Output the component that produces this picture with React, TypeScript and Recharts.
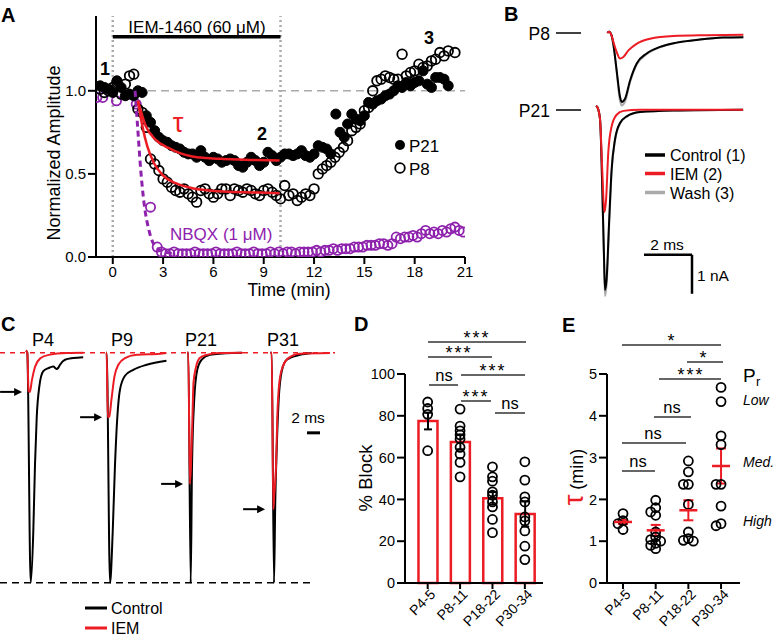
import React from "react";
import {
  Bar, ComposedChart, ErrorBar, Line, LineChart, ReferenceDot, ReferenceLine, Scatter, XAxis, YAxis,
} from "recharts";

// ---------- colours / fonts ----------
const RED = "#ec1c24";
const PURPLE = "#8e22ad";
const GRAY = "#aaaaaa";
const FONT = '"Liberation Sans", Arial, Helvetica, sans-serif';

// ---------- Panel A: normalized amplitude vs time (min) ----------
const p21: [number, number][] = [
  [-0.75, 1.03], [-0.5, 1.02], [-0.25, 1.01], [0, 0.99], [0.25, 1.06], [0.5, 1.02], [0.75, 0.97],
  [1.0, 0.98], [1.25, 0.97], [1.5, 1.0], [1.75, 0.99], [2.0, 0.85], [2.25, 0.81], [2.5, 0.76],
  [2.75, 0.72], [3.0, 0.7], [3.25, 0.69], [3.5, 0.67], [3.75, 0.66], [4.0, 0.65], [4.25, 0.63],
  [4.5, 0.62], [4.75, 0.62], [5.0, 0.6], [5.25, 0.64], [5.5, 0.6], [5.75, 0.58], [6.0, 0.6],
  [6.25, 0.59], [6.5, 0.57], [6.75, 0.58], [7.0, 0.59], [7.25, 0.58], [7.5, 0.55], [7.75, 0.54],
  [8.0, 0.57], [8.25, 0.6], [8.5, 0.58], [8.75, 0.55], [9.0, 0.57], [9.25, 0.63], [9.5, 0.61],
  [9.75, 0.58], [10.0, 0.6], [10.25, 0.62], [10.5, 0.62], [10.75, 0.61], [11.0, 0.62], [11.25, 0.64],
  [11.5, 0.61], [11.75, 0.6], [12.0, 0.62], [12.25, 0.67], [12.5, 0.66], [12.75, 0.65], [13.0, 0.62],
  [13.3, 0.86], [13.55, 0.75], [13.8, 0.72], [14.0, 0.8], [14.25, 0.86], [14.5, 0.83], [14.75, 0.82],
  [15.0, 0.85], [15.25, 0.93], [15.5, 0.92], [15.75, 0.94], [16.0, 0.95], [16.25, 0.97], [16.5, 0.98],
  [16.75, 1.0], [17.0, 1.03], [17.25, 1.02], [17.5, 1.05], [17.75, 1.03], [18.0, 1.05], [18.25, 1.06],
  [18.5, 1.12], [18.75, 1.04], [19.0, 1.02], [19.25, 1.08], [19.5, 1.08], [19.75, 1.07], [20.0, 1.03],
];

const p8: [number, number][] = [
  [-0.75, 1.01], [-0.5, 0.99], [-0.25, 1.0], [0, 1.02], [0.25, 1.05], [0.5, 0.98], [0.75, 1.04],
  [1.0, 1.09], [1.25, 1.1], [1.5, 0.89], [1.75, 0.87], [2.0, 0.78], [2.25, 0.59], [2.5, 0.56],
  [2.75, 0.52], [3.0, 0.47], [3.25, 0.45], [3.5, 0.42], [3.75, 0.4], [4.0, 0.39], [4.25, 0.41],
  [4.5, 0.38], [4.75, 0.36], [5.0, 0.33], [5.25, 0.4], [5.5, 0.41], [5.75, 0.38], [6.0, 0.36],
  [6.25, 0.38], [6.5, 0.41], [6.75, 0.41], [7.0, 0.37], [7.25, 0.41], [7.5, 0.4], [7.75, 0.39],
  [8.0, 0.41], [8.25, 0.4], [8.5, 0.38], [8.75, 0.37], [9.0, 0.4], [9.25, 0.41], [9.5, 0.39],
  [9.75, 0.37], [10.0, 0.35], [10.25, 0.43], [10.5, 0.37], [10.75, 0.38], [11.0, 0.34], [11.25, 0.36],
  [11.5, 0.38], [11.75, 0.37], [12.0, 0.41], [12.25, 0.5], [12.5, 0.53], [12.75, 0.55], [13.0, 0.57],
  [13.25, 0.6], [13.5, 0.63], [13.75, 0.66], [14.0, 0.7], [14.25, 0.76], [14.5, 0.78], [14.75, 0.8],
  [15.0, 0.88], [15.25, 0.9], [15.5, 1.0], [15.75, 1.06], [16.0, 1.07], [16.25, 1.09], [16.5, 1.08],
  [16.75, 1.07], [17.0, 1.07], [17.25, 1.22], [17.5, 1.09], [17.75, 1.11], [18.0, 1.12], [18.25, 1.16],
  [18.5, 1.14], [18.75, 1.15], [19.0, 1.18], [19.25, 1.19], [19.5, 1.23], [19.75, 1.21], [20.0, 1.24],
  [20.4, 1.23],
];

const nbqx: [number, number][] = [
  [-0.95, 0.96], [-0.6, 0.96], [0.22, 0.94], [1.4, 0.92], [2.25, 0.3], [2.65, 0.06],
  [2.9, 0.03], [3.15, 0.02], [3.4, 0.02], [3.65, 0.03], [3.9, 0.02], [4.15, 0.02], [4.4, 0.02],
  [4.65, 0.02], [4.9, 0.03], [5.15, 0.02], [5.4, 0.02], [5.65, 0.02], [5.9, 0.02], [6.15, 0.03],
  [6.4, 0.02], [6.65, 0.02], [6.9, 0.02], [7.15, 0.02], [7.4, 0.03], [7.65, 0.02], [7.9, 0.02],
  [8.15, 0.02], [8.4, 0.03], [8.65, 0.02], [8.9, 0.02], [9.15, 0.02], [9.4, 0.03], [9.65, 0.02],
  [9.9, 0.03], [10.15, 0.02], [10.4, 0.03], [10.65, 0.03], [10.9, 0.02], [11.15, 0.03], [11.4, 0.03],
  [11.65, 0.03], [11.9, 0.03], [12.15, 0.04], [12.4, 0.03], [12.65, 0.04], [12.9, 0.04], [13.15, 0.05],
  [13.4, 0.04], [13.65, 0.05], [13.9, 0.05], [14.15, 0.05], [14.4, 0.06], [14.65, 0.06], [14.9, 0.06],
  [15.15, 0.07], [15.4, 0.07], [15.65, 0.07], [15.9, 0.08], [16.15, 0.08], [16.4, 0.07], [16.65, 0.08],
  [16.9, 0.12], [17.15, 0.11], [17.4, 0.12], [17.65, 0.12], [17.9, 0.13], [18.15, 0.12], [18.4, 0.14],
  [18.65, 0.16], [18.9, 0.14], [19.15, 0.15], [19.4, 0.14], [19.65, 0.16], [19.9, 0.15], [20.15, 0.17],
  [20.4, 0.18], [20.65, 0.16], [20.9, 0.15],
];

const fitP21: [number, number][] = [
  [1.5, 0.94], [1.96, 0.79], [2.56, 0.705], [3.35, 0.655], [4.0, 0.625], [4.74, 0.605],
  [5.6, 0.596], [6.57, 0.59], [7.5, 0.586], [8.55, 0.583], [9.94, 0.58],
];
const fitP8: [number, number][] = [
  [1.5, 0.94], [1.77, 0.785], [2.06, 0.665], [2.46, 0.564], [2.96, 0.494], [3.75, 0.444],
  [4.74, 0.414], [5.6, 0.402], [6.57, 0.394], [8.55, 0.388], [9.94, 0.384],
];
const fitNbqx: [number, number][] = [
  [1.33, 1.0], [1.47, 0.8], [1.67, 0.52], [1.87, 0.32], [2.16, 0.16], [2.56, 0.06], [3.15, 0.03], [3.6, 0.02],
];

const timeTicks = [0, 3, 6, 9, 12, 15, 18, 21];
const ampTicks = [0, 0.5, 1.0];

// ---------- Panel B: example currents (ms, nA) ----------
const bP8Control: [number, number][] = [
  [0.72, 0.02], [0.8, 0.05], [0.9, -0.05], [0.97, -0.26], [1.11, -0.94], [1.25, -1.62], [1.32, -1.75],
  [1.46, -1.67], [1.67, -1.2], [1.94, -0.77], [2.36, -0.51], [2.92, -0.34], [3.61, -0.23], [4.58, -0.15],
  [5.55, -0.1], [6.39, -0.09],
];
const bP8Wash: [number, number][] = [
  [0.72, 0.02], [0.8, 0.05], [0.9, -0.05], [0.97, -0.27], [1.11, -0.98], [1.25, -1.72], [1.32, -1.84],
  [1.46, -1.74], [1.67, -1.24], [1.94, -0.8], [2.36, -0.53], [2.92, -0.35], [3.61, -0.23], [4.58, -0.15],
  [5.55, -0.1], [6.39, -0.09],
];
const bP8Iem: [number, number][] = [
  [0.72, 0.02], [0.8, 0.05], [0.9, -0.05], [0.97, -0.2], [1.11, -0.47], [1.25, -0.64], [1.39, -0.6],
  [1.6, -0.43], [1.94, -0.26], [2.5, -0.13], [3.47, -0.06], [4.86, -0.04], [6.39, -0.03],
];
const bP21Control: [number, number][] = [
  [0.25, 0.1], [0.32, 0.05], [0.42, -0.26], [0.51, -1.97], [0.58, -3.68], [0.625, -4.62], [0.69, -4.36],
  [0.8, -2.82], [0.9, -1.54], [1.04, -0.77], [1.25, -0.34], [1.53, -0.17], [2.08, -0.06], [3.47, -0.02],
  [6.38, 0],
];
const bP21Wash: [number, number][] = [
  [0.25, 0.1], [0.32, 0.05], [0.42, -0.27], [0.51, -2.05], [0.58, -3.8], [0.625, -4.78], [0.69, -4.5],
  [0.8, -2.95], [0.9, -1.62], [1.04, -0.8], [1.25, -0.36], [1.53, -0.18], [2.08, -0.06], [3.47, -0.02],
  [6.38, 0],
];
const bP21Iem: [number, number][] = [
  [0.25, 0.1], [0.32, 0.05], [0.42, -0.26], [0.51, -1.54], [0.6, -2.63], [0.67, -2.31], [0.76, -1.11],
  [0.9, -0.43], [1.11, -0.13], [1.39, -0.03], [2.08, 0], [6.38, 0],
];

// ---------- Panel C: normalized currents (ms, fraction of control peak) ----------
const cAges = ["P4", "P9", "P21", "P31"];
const cLeft = [0, 80, 161, 243];
const cControl: [number, number][][] = [
  [[4.0, 0.01], [4.2, 0], [4.72, -1.0], [5.12, -0.78], [5.38, -0.49], [5.65, -0.28], [6.05, -0.146],
    [6.66, -0.08], [7.43, -0.067], [8.2, -0.06], [8.7, -0.07], [8.97, -0.065], [9.23, -0.052],
    [10.0, -0.03], [11.28, -0.023], [12.8, -0.019]],
  [[4.0, 0], [4.1, 0], [4.62, -1.0], [5.03, -0.78], [5.38, -0.49], [5.74, -0.28], [6.15, -0.16],
    [6.92, -0.1], [8.2, -0.074], [10.26, -0.052], [13.3, -0.035]],
  [[4.0, 0], [4.2, 0], [4.57, -1.0], [4.77, -0.494], [5.12, -0.2], [5.58, -0.074], [6.26, -0.03],
    [7.54, -0.009], [11.08, -0.001], [12.46, 0]],
  [[4.2, 0], [4.42, 0], [4.77, -1.0], [4.97, -0.639], [5.18, -0.422], [5.49, -0.204], [5.95, -0.081],
    [6.72, -0.03], [8.77, -0.009], [10.57, -0.001]],
];
const cIem: [number, number][][] = [
  [[4.0, 0.01], [4.2, 0], [4.4, -0.165], [4.6, -0.17], [4.9, -0.12], [5.4, -0.06], [6.2, -0.024],
    [7.5, -0.009], [10.3, -0.001], [12.8, 0]],
  [[4.0, 0], [4.1, 0], [4.27, -0.28], [4.5, -0.278], [4.85, -0.2], [5.3, -0.103], [5.9, -0.052],
    [6.92, -0.023], [8.72, -0.009], [12.3, -0.004], [13.3, -0.001]],
  [[4.0, 0], [4.2, 0], [4.44, -0.57], [4.6, -0.5], [4.82, -0.3], [5.0, -0.13], [5.4, -0.06],
    [5.95, -0.023], [7.0, -0.009], [9.08, -0.001], [12.46, 0]],
  [[4.2, 0], [4.42, 0], [4.66, -0.68], [4.8, -0.62], [5.08, -0.494], [5.28, -0.277], [5.58, -0.132],
    [6.11, -0.06], [6.97, -0.023], [8.77, -0.004], [13.38, -0.001]],
];

// ---------- Panels D & E ----------
const groups = ["P4-5", "P8-11", "P18-22", "P30-34"];
const blockMean = [77.5, 67.5, 40.5, 33];
const blockSem = [4, 3.5, 3, 6];
const blockPoints = [
  [86.6, 83.5, 80.7, 63.3],
  [83.2, 75.1, 72.8, 70.9, 69.0, 64.9, 61.7, 57.7, 50.8],
  [55.6, 50.8, 48.7, 43.6, 42.0, 38.8, 36.4, 30.4, 24.1],
  [58.0, 49.2, 41.2, 38.8, 31.6, 29.7, 24.9, 17.6, 11.2],
];
const tauMean = [1.46, 1.26, 1.74, 2.8];
const tauSem = [0.05, 0.13, 0.24, 0.42];
const tauPoints = [
  [1.66, 1.49, 1.42, 1.28],
  [1.98, 1.8, 1.7, 1.62, 1.22, 1.1, 1.04, 1.0, 0.95, 0.9, 0.82],
  [2.92, 2.66, 2.36, 2.36, 1.88, 1.22, 1.06, 1.02, 1.0],
  [4.68, 4.34, 3.52, 3.31, 2.36, 2.36, 1.84, 1.42, 1.37],
];

const toTV = (a: [number, number][]) => a.map(([t, v]) => ({ t, v }));

// simple beeswarm so overlapping circles sit side by side (px)
const E_PX_PER_MIN = 41.7;
const E_PX_PER_GROUP = 32.8;
function swarm(values: number[]): number[] {
  const placed: { dx: number; y: number }[] = [];
  return values.map((v) => {
    const y = v * E_PX_PER_MIN;
    for (const k of [0, -1, 1, -2, 2]) {
      const dx = k * 5;
      if (placed.every((p) => Math.hypot(p.dx - dx, p.y - y) >= 5)) {
        placed.push({ dx, y });
        return dx;
      }
    }
    placed.push({ dx: 0, y });
    return 0;
  });
}

const axisStroke = { stroke: "#000", strokeWidth: 2 };

const openDot = (color: string, r = 4.8) => (p: any) =>
  <circle cx={p.cx} cy={p.cy} r={r} fill="none" stroke={color} strokeWidth={1.8} />;
const filledDot = (p: any) => <circle cx={p.cx} cy={p.cy} r={5} fill="#000" stroke="#000" strokeWidth={1} />;

const SlantTick = (props: any) => {
  const { x, y, payload } = props;
  return (
    <text x={x} y={y} dx={3} dy={9} transform={`rotate(-45 ${x} ${y})`} textAnchor="end"
      fontSize={14} fill="#000">{groups[payload.value]}</text>
  );
};

function PanelA() {
  return (
    <ComposedChart width={480} height={300} margin={{ top: 16, right: 15, left: 0, bottom: 13 }}>
      <XAxis type="number" dataKey="t" domain={[-1, 21]} ticks={timeTicks} interval={0} allowDataOverflow
        height={30} tickSize={7} axisLine={axisStroke} tickLine={axisStroke} tick={{ fill: "#000", fontSize: 15 }} />
      <YAxis type="number" domain={[0, 1.45]} ticks={ampTicks} interval={0} allowDataOverflow width={96}
        tickSize={8} tickFormatter={(v: number) => v.toFixed(1)} axisLine={axisStroke} tickLine={axisStroke}
        tick={{ fill: "#000", fontSize: 15 }} />
      <ReferenceLine x={0} stroke={GRAY} strokeWidth={2.5} strokeDasharray="2 3" />
      <ReferenceLine x={10} stroke={GRAY} strokeWidth={2.5} strokeDasharray="2 3" />
      <ReferenceLine y={1} stroke={GRAY} strokeWidth={1.5} strokeDasharray="8 5" />
      <ReferenceLine segment={[{ x: 0, y: 1.325 }, { x: 10, y: 1.325 }]} stroke="#000" strokeWidth={3.5} />
      <Scatter data={toTV(nbqx)} dataKey="v" shape={openDot(PURPLE, 4.6)} isAnimationActive={false} />
      <Scatter data={toTV(p8)} dataKey="v" shape={openDot("#000")} isAnimationActive={false} />
      <Scatter data={toTV(p21)} dataKey="v" shape={filledDot} isAnimationActive={false} />
      <Line data={toTV(fitNbqx)} dataKey="v" type="monotone" stroke={PURPLE} strokeWidth={3}
        strokeDasharray="6 4" dot={false} isAnimationActive={false} zIndex={700} />
      <Line data={toTV(fitP21)} dataKey="v" type="monotone" stroke={RED} strokeWidth={2.5}
        dot={false} isAnimationActive={false} zIndex={700} />
      <Line data={toTV(fitP8)} dataKey="v" type="monotone" stroke={RED} strokeWidth={2.5}
        dot={false} isAnimationActive={false} zIndex={700} />
    </ComposedChart>
  );
}

const B_PX_MS = 24;
const B_PX_NA = 39;

function TraceChart(props: {
  width: number; xPx: number; yDomain: [number, number]; yPx: number;
  series: { data: [number, number][]; color: string }[]; children?: React.ReactNode;
}) {
  const { width, xPx, yDomain, yPx, series, children } = props;
  const height = (yDomain[1] - yDomain[0]) * yPx;
  return (
    <LineChart width={width} height={height} margin={{ top: 0, right: 0, left: 0, bottom: 0 }}>
      <XAxis type="number" dataKey="t" domain={[0, width / xPx]} hide allowDataOverflow />
      <YAxis type="number" domain={yDomain} hide allowDataOverflow />
      {children}
      {series.map((s, i) => (
        <Line key={i} data={toTV(s.data)} dataKey="v" type="monotone" stroke={s.color} strokeWidth={2}
          dot={false} isAnimationActive={false} />
      ))}
    </LineChart>
  );
}

const C_PX_MS = 6.5;
const C_PX_UNIT = 230;
const C_DOMAIN: [number, number] = [-1.03, 0.06];

const Arrow = (p: any) => (
  <g>
    <line x1={p.cx - 22} y1={p.cy} x2={p.cx - 6} y2={p.cy} stroke="#000" strokeWidth={2} />
    <polygon points={`${p.cx},${p.cy} ${p.cx - 8},${p.cy - 4} ${p.cx - 8},${p.cy + 4}`} fill="#000" />
  </g>
);

function PanelC() {
  return (
    <>
      {cAges.map((age, i) => {
        const next = i < 3 ? cLeft[i + 1] : 335;
        const dashEnd = Math.min(next, 312) - cLeft[i];
        const peak = Math.min(...cIem[i].map((d) => d[1]));
        return (
          <div key={age} style={{ position: "absolute", left: cLeft[i], top: 339 }}>
            <TraceChart width={92} xPx={C_PX_MS} yDomain={C_DOMAIN} yPx={C_PX_UNIT}
              series={[{ data: cControl[i], color: "#000" }, { data: cIem[i], color: RED }]}>
              <ReferenceLine segment={[{ x: 0, y: 0 }, { x: (next - cLeft[i]) / C_PX_MS, y: 0 }]}
                stroke={RED} strokeWidth={1.5} strokeDasharray="5 5" />
              <ReferenceLine segment={[{ x: 0, y: -1 }, { x: dashEnd / C_PX_MS, y: -1 }]}
                stroke="#000" strokeWidth={1.5} strokeDasharray="7 5" />
              <ReferenceDot x={3.4} y={peak} r={0} shape={Arrow} ifOverflow="visible" />
              {i === 3 && (
                <ReferenceLine segment={[{ x: 9.85, y: -0.348 }, { x: 11.85, y: -0.348 }]} stroke="#000" strokeWidth={3} />
              )}
            </TraceChart>
          </div>
        );
      })}
    </>
  );
}

function PanelD() {
  const bars = blockMean.map((v, i) => ({ x: i, v, sem: blockSem[i] }));
  const pts = blockPoints.flatMap((vals, i) => vals.map((v) => ({ x: i, v })));
  return (
    <ComposedChart width={220} height={272} data={bars} margin={{ top: 10, right: 7, left: 0, bottom: 3 }}>
      <XAxis type="number" dataKey="x" domain={[-0.7, 3.56]} ticks={[0, 1, 2, 3]} interval={0} allowDataOverflow
        height={50} tickSize={6} axisLine={axisStroke} tickLine={axisStroke} tick={<SlantTick />} />
      <YAxis type="number" domain={[0, 100]} ticks={[0, 20, 40, 60, 80, 100]} interval={0} width={75}
        tickSize={8} axisLine={axisStroke} tickLine={axisStroke} tick={{ fill: "#000", fontSize: 14.5 }} />
      <Bar dataKey="v" barSize={19} fill="#fff" stroke={RED} strokeWidth={2.5} isAnimationActive={false}>
        <ErrorBar dataKey="sem" width={4} stroke="#000" strokeWidth={2} direction="y" isAnimationActive={false} />
      </Bar>
      <Scatter data={pts} dataKey="v" shape={openDot("#000", 4.5)} isAnimationActive={false} />
    </ComposedChart>
  );
}

function PanelE() {
  const pts = tauPoints.flatMap((vals, i) => {
    const dx = swarm(vals);
    return vals.map((v, j) => ({ x: i + dx[j] / E_PX_PER_GROUP, v }));
  });
  const means = tauMean.map((v, i) => ({ x: i, v, sem: tauSem[i] }));
  const meanMark = (p: any) => (
    <line x1={p.cx - 9} x2={p.cx + 9} y1={p.cy} y2={p.cy} stroke={RED} strokeWidth={2.5} />
  );
  return (
    <ComposedChart width={235} height={272} margin={{ top: 10, right: 35, left: 0, bottom: 3 }}>
      <XAxis type="number" dataKey="x" domain={[-0.49, 3.58]} ticks={[0, 1, 2, 3]} interval={0} allowDataOverflow
        height={50} tickSize={6} axisLine={axisStroke} tickLine={axisStroke} tick={<SlantTick />} />
      <YAxis type="number" domain={[0, 5]} ticks={[0, 1, 2, 3, 4, 5]} interval={0} width={67}
        tickSize={8} axisLine={axisStroke} tickLine={axisStroke} tick={{ fill: "#000", fontSize: 14.5 }} />
      <Scatter data={pts} dataKey="v" shape={openDot("#000", 4.5)} isAnimationActive={false} />
      <Scatter data={means} dataKey="v" shape={meanMark} isAnimationActive={false} zIndex={700}>
        <ErrorBar dataKey="sem" width={5} stroke={RED} strokeWidth={2} direction="y" isAnimationActive={false} />
      </Scatter>
    </ComposedChart>
  );
}

// significance brackets: [x1, x2, lineY, label, textX]
const dSig: [number, number, number, string, number][] = [
  [428, 526, 342, "***", 477], [428, 492, 357, "***", 459], [461, 525, 375, "***", 493],
  [429, 458, 385, "ns", 444], [461, 491, 401, "***", 476], [495, 525, 413, "ns", 510],
];
const eSig: [number, number, number, string, number][] = [
  [622, 721, 345, "*", 672], [687, 723, 362, "*", 704], [659, 721, 379, "***", 691],
  [654, 691, 417, "ns", 672], [622, 686, 443, "ns", 653], [622, 655, 471, "ns", 638],
];

function Sig({ s }: { s: [number, number, number, string, number] }) {
  const [x1, x2, y, label, tx] = s;
  const star = label !== "ns";
  return (
    <g>
      <line x1={x1} x2={x2} y1={y} y2={y} stroke="#333" strokeWidth={1.5} />
      <text x={tx} y={star ? y + 2 : y - 4} textAnchor="middle" fontSize={star ? 18 : 16.5}
        letterSpacing={star ? 2 : 0} fill="#000">{label}</text>
    </g>
  );
}

export default function App() {
  const letter = { fontSize: 20, fontWeight: 700 } as const;
  return (
    <div style={{ position: "absolute", left: 0, top: 0, width: 775, height: 636, background: "#fff", fontFamily: FONT, overflow: "hidden" }}>
      <div style={{ position: "absolute", left: 0, top: 0 }}><PanelA /></div>

      <div style={{ position: "absolute", left: 590, top: 33.3 - 0.35 * B_PX_NA }}>
        <TraceChart width={160} xPx={B_PX_MS} yDomain={[-2.25, 0.35]} yPx={B_PX_NA}
          series={[{ data: bP8Wash, color: GRAY }, { data: bP8Control, color: "#000" }, { data: bP8Iem, color: RED }]} />
      </div>
      <div style={{ position: "absolute", left: 590, top: 110 - 0.3 * B_PX_NA }}>
        <TraceChart width={160} xPx={B_PX_MS} yDomain={[-4.95, 0.3]} yPx={B_PX_NA}
          series={[{ data: bP21Wash, color: GRAY }, { data: bP21Control, color: "#000" }, { data: bP21Iem, color: RED }]}>
          <ReferenceLine segment={[{ x: 2.25, y: -3.72 }, { x: 4.25, y: -3.72 }]} stroke="#000" strokeWidth={2.5} />
          <ReferenceLine segment={[{ x: 4.25, y: -3.72 }, { x: 4.25, y: -4.72 }]} stroke="#000" strokeWidth={2.5} />
        </TraceChart>
      </div>

      <PanelC />
      <div style={{ position: "absolute", left: 330, top: 364 }}><PanelD /></div>
      <div style={{ position: "absolute", left: 540, top: 364 }}><PanelE /></div>

      <svg width={775} height={636} style={{ position: "absolute", left: 0, top: 0, pointerEvents: "none" }} fontFamily={FONT}>
        {/* panel letters */}
        <text x={1} y={22} {...letter}>A</text>
        <text x={504} y={21} {...letter}>B</text>
        <text x={1} y={331} {...letter}>C</text>
        <text x={354} y={331} {...letter}>D</text>
        <text x={562} y={332} {...letter}>E</text>

        {/* A annotations */}
        <text x={197} y={33} textAnchor="middle" fontSize={17}>IEM-1460 (60 μM)</text>
        <text x={105} y={75} textAnchor="middle" fontSize={18} fontWeight={700}>1</text>
        <text x={262} y={140} textAnchor="middle" fontSize={18} fontWeight={700}>2</text>
        <text x={429} y={44} textAnchor="middle" fontSize={18} fontWeight={700}>3</text>
        <text x={178} y={132} textAnchor="middle" fontSize={27} fill={RED}>τ</text>
        <text x={170} y={240} fontSize={17} fill={PURPLE}>NBQX (1 μM)</text>
        <circle cx={400} cy={145} r={5} fill="#000" />
        <text x={409} y={152} fontSize={17}>P21</text>
        <circle cx={400} cy={168} r={4.8} fill="none" stroke="#000" strokeWidth={1.8} />
        <text x={409} y={175} fontSize={17}>P8</text>
        <text transform="translate(60,153) rotate(-90)" textAnchor="middle" fontSize={18}>Normalized Amplitude</text>
        <text x={289} y={296} textAnchor="middle" fontSize={17.5}>Time (min)</text>

        {/* B annotations */}
        <text x={550} y={40} textAnchor="end" fontSize={17.5}>P8</text>
        <line x1={556} x2={581} y1={33} y2={33} stroke="#000" strokeWidth={1.5} />
        <text x={550} y={117} textAnchor="end" fontSize={17.5}>P21</text>
        <line x1={556} x2={581} y1={110} y2={110} stroke="#000" strokeWidth={1.5} />
        {[["Control (1)", "#000", 155], ["IEM (2)", RED, 173.5], ["Wash (3)", GRAY, 192.5]].map(([t, c, y]) => (
          <g key={t as string}>
            <line x1={645} x2={665} y1={y as number} y2={y as number} stroke={c as string} strokeWidth={3.5} />
            <text x={670} y={(y as number) + 6} fontSize={16}>{t}</text>
          </g>
        ))}
        <text x={667} y={250} textAnchor="middle" fontSize={15.5}>2 ms</text>
        <text x={697} y={281} fontSize={15.5}>1 nA</text>

        {/* C annotations */}
        {cAges.map((a, i) => (
          <text key={a} x={[43, 122, 201, 283][i]} y={346} textAnchor="middle" fontSize={18}>{a}</text>
        ))}
        <text x={308} y={423} textAnchor="middle" fontSize={15.5}>2 ms</text>
        <line x1={85} x2={107} y1={608} y2={608} stroke="#000" strokeWidth={3} />
        <text x={111} y={614} fontSize={16}>Control</text>
        <line x1={85} x2={107} y1={628} y2={628} stroke={RED} strokeWidth={3} />
        <text x={111} y={634} fontSize={16}>IEM</text>

        {/* D annotations */}
        <text transform="translate(372,478) rotate(-90)" textAnchor="middle" fontSize={18.5}>% Block</text>
        {dSig.map((s, i) => <Sig key={i} s={s} />)}

        {/* E annotations */}
        <text transform="translate(583,477) rotate(-90)" textAnchor="middle" fontSize={18}>
          <tspan fill={RED} fontSize={27}>τ</tspan> (min)
        </text>
        {eSig.map((s, i) => <Sig key={i} s={s} />)}
        <text x={743} y={382} fontSize={19}>P</text>
        <text x={756} y={386} fontSize={13}>r</text>
        <text x={743} y={405} fontSize={14} fontStyle="italic">Low</text>
        <text x={743} y={467} fontSize={14} fontStyle="italic">Med.</text>
        <text x={743} y={526} fontSize={14} fontStyle="italic">High</text>
      </svg>
    </div>
  );
}
